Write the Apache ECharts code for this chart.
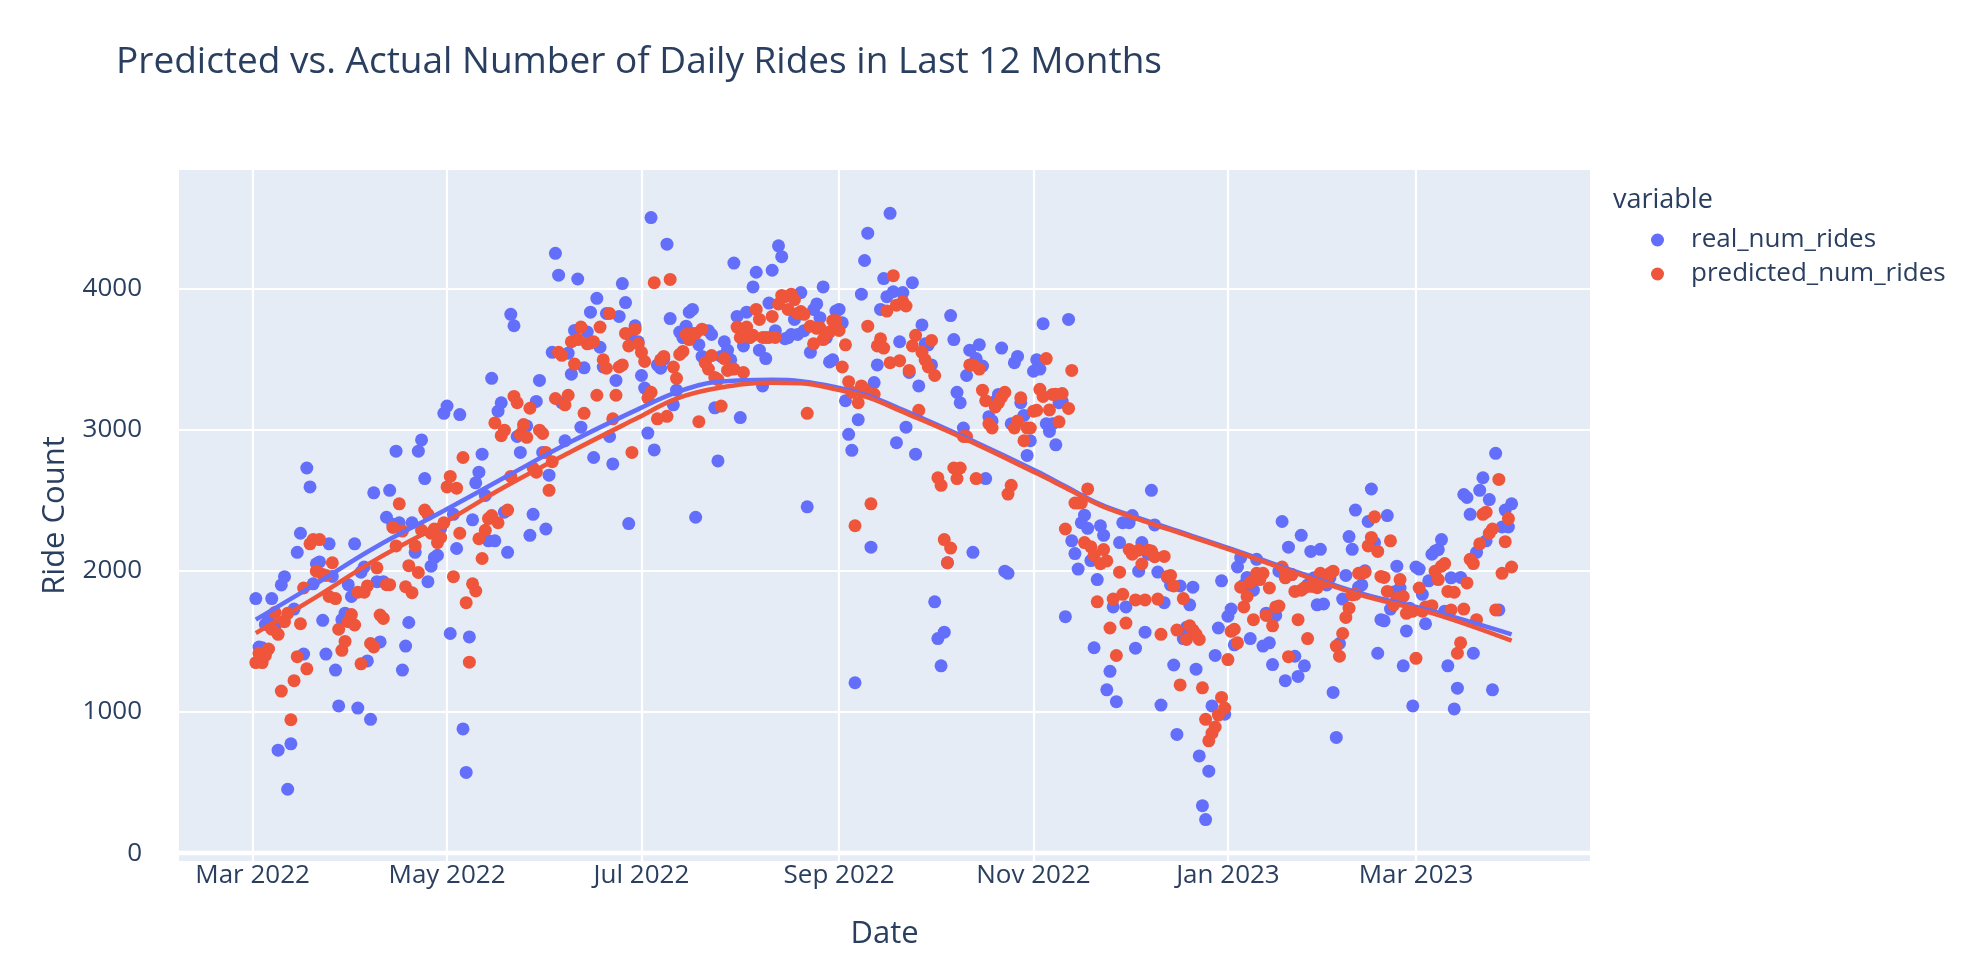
<!DOCTYPE html>
<html>
<head>
<meta charset="utf-8">
<script src="https://cdn.jsdelivr.net/npm/echarts@6.0.0/dist/echarts.min.js"></script>
<style>
html,body{margin:0;padding:0;background:#fff;}
#chart{width:1976px;height:972px;}
</style>
</head>
<body>
<div id="chart"></div>
<script>
// Daily observations: first day 2022-03-02, one value per consecutive day (395 days)
const firstDay = [2022, 3, 2];
const realNumRides = [
1803,1460,1455,1620,1660,1803,1600,730,1900,1958,
453,775,1729,2131,2266,1410,2728,2594,1908,2050,
2063,1649,1410,2191,1960,1297,1043,1654,1700,1902,
1818,2191,1028,1990,2027,1362,948,2552,1923,1496,
1923,2379,2570,2330,2847,2340,1297,1467,1634,2340,
2131,2847,2927,2653,1923,2033,2093,2110,2300,3115,
3166,1556,2400,2158,3106,880,572,1532,2361,2623,
2698,2826,2534,2212,3363,2212,3130,3190,2415,2131,
3816,3735,2951,2838,3000,3026,2251,2400,3199,3348,
2838,2296,2677,3547,4248,4093,3190,2921,3541,3392,
3702,4066,3017,3437,3690,3831,2802,3929,3583,3443,
3822,2951,2757,3348,3801,4034,3899,2334,3637,3735,
3622,3383,3294,2975,4501,2856,3458,3434,3500,4313,
3786,3175,3279,3690,3650,3732,3831,3851,2379,3601,
3518,3482,3700,3673,3154,2778,3518,3622,3562,3494,
4179,3801,3085,3592,3831,3652,4010,4114,3562,3309,
3503,3896,4128,3700,4301,4224,3643,3650,3673,3780,
3673,3970,3700,2453,3547,3850,3890,3792,4010,3650,
3479,3494,3839,3851,3756,3204,2966,2853,1207,3070,
3959,4197,4391,2167,3333,3458,3851,4069,3941,4531,
3976,2907,3622,3970,3017,3404,4040,2826,3309,3741,
3607,3600,3458,1780,1520,1327,1565,2057,3807,3637,
3264,3190,3011,3383,3562,2131,3503,3601,3450,2653,
3091,3061,3200,3249,3577,1997,1982,3041,3473,3518,
3190,3100,2817,2921,3413,3494,3428,3750,3041,2987,
3041,2892,3190,3200,1675,3780,2212,2122,2012,2340,
2394,2301,2072,1455,1938,2319,2251,1157,1288,1744,
1073,2200,2340,1744,2340,2391,1452,1997,2200,1565,
2117,2570,2325,1991,1049,1774,1953,1900,1333,841,
1893,1520,1600,1759,1884,1303,689,337,238,581,
1043,1401,1595,1929,984,1678,1729,1476,2027,2093,
1900,1953,1520,1863,2081,1950,1467,1700,1490,1336,
1684,1997,2349,1222,2167,1973,1395,1252,2251,1327,
1900,2137,1950,1759,2152,1765,1900,1950,1139,820,
1485,1800,1967,2242,2152,2430,1884,1900,2000,2349,
2579,2200,1416,1654,1646,2391,1729,1850,2033,1878,
1327,1574,1735,1043,2027,2012,1833,1625,1929,2117,
2140,2150,2221,1714,1327,1950,1022,1169,1953,2540,
2519,2400,1416,2131,2570,2659,2212,2504,1157,2832,
1723,2310,2430,2310,2474
];
const predictedNumRides = [
1350,1416,1350,1400,1446,1586,1705,1550,1148,1640,
1699,945,1222,1392,1625,1878,1306,2191,2221,1997,
2221,1973,1967,1818,2057,1803,1586,1437,1500,1640,
1690,1616,1848,1341,1848,1893,1485,1461,2021,1687,
1663,1902,1902,2307,2176,2474,2281,1887,2036,1845,
2176,1988,2287,2430,2400,2266,2296,2200,2236,2340,
2594,2668,1958,2585,2266,2802,1774,1353,1908,1857,
2227,2087,2287,2370,2391,3047,2340,2957,2996,2430,
2668,3235,3190,2966,3035,2945,3151,2728,2698,2996,
2972,2838,2570,2772,3220,3547,3526,3175,3243,3622,
3464,3637,3726,3115,3607,3613,3622,3243,3726,3494,
3434,3822,3076,3243,3443,3458,3681,3592,2838,3711,
3607,3547,3482,3225,3264,4040,3076,3494,3518,3094,
4063,3443,3363,3532,3553,3673,3637,3681,3681,3056,
3711,3473,3428,3524,3369,3354,3166,3503,3419,3428,
3428,3726,3652,3404,3726,3652,3667,3851,3780,3652,
3652,3652,3801,3652,3890,3950,3941,3851,3959,3920,
3822,3836,3816,3115,3732,3607,3717,3720,3637,3673,
3690,3771,3771,3702,3443,3600,3339,3264,2319,3190,
3309,3285,3732,2474,3250,3592,3643,3577,3839,3473,
4090,3881,3488,3905,3875,3419,3592,3667,3136,3547,
3494,3443,3631,3383,2659,2605,2221,2057,2161,2728,
2653,2728,2951,2951,3458,3458,2653,3428,3279,3204,
3041,3011,3160,3190,3230,3264,2543,2605,3011,3061,
3225,2921,3011,3011,3130,3136,3285,3234,3503,3139,
3249,3250,3055,3255,2296,3150,3419,2480,2480,2480,
2200,2580,2170,2110,1780,2050,2150,2070,1595,1800,
1400,1990,1833,1630,2150,2117,1794,2146,2048,1794,
2146,2140,2100,1800,1550,2102,1960,1967,1893,1580,
1192,1803,1514,1610,1580,1550,1514,1171,948,796,
850,894,978,1103,1028,1371,1571,1586,1490,1884,
1744,1818,1917,1654,1982,1938,1982,1684,1878,1610,
1744,1750,2027,1950,1392,1973,1854,1654,1863,1880,
1520,1890,1890,1880,1982,1960,1920,1982,1997,1467,
1395,1556,1670,1735,1830,1833,1982,1982,1990,2176,
2236,2382,2137,1960,1953,1854,2212,1759,1803,1938,
1818,1699,1714,1714,1380,1878,1714,1744,1744,1753,
1997,1938,2033,2051,1854,1723,1848,1416,1490,1729,
1914,2081,2051,1654,2191,2400,2415,2266,2296,1723,
2647,1982,2206,2370,2027
];
// Trend (LOWESS) lines, read at these day offsets counted from 2022-03-01
const trendDays = [1,20,38,60,79,100,121,133,146,163,172,183,193,204,224,246,255,266,276,287,307,328,348,370,395];
const realTrend = [1654,1910,2160,2425,2660,2915,3145,3264,3338,3353,3343,3300,3240,3140,2940,2705,2598,2470,2388,2305,2155,1988,1838,1716,1550];
const predictedTrend = [1559,1815,2070,2340,2593,2845,3085,3219,3294,3332,3328,3285,3228,3125,2928,2690,2588,2462,2380,2296,2146,1978,1826,1700,1505];
// Axis ticks
const xTickDates = ['2022-03-01','2022-05-01','2022-07-01','2022-09-01','2022-11-01','2023-01-01','2023-03-01'];
const xTickLabels = ['Mar 2022','May 2022','Jul 2022','Sep 2022','Nov 2022','Jan 2023','Mar 2023'];
const yTicks = [0,1000,2000,3000,4000];

function ms(y, m, d) { return Date.UTC(y, m - 1, d); }
function parse(s) { const p = s.split('-').map(Number); return ms(p[0], p[1], p[2]); }
const xTickMs = xTickDates.map(parse);
const dayMs = i => ms(firstDay[0], firstDay[1], firstDay[2] + i);
const offMs = k => ms(2022, 3, 1 + k);

const realData = realNumRides.map((v, i) => [dayMs(i), v]);
const predData = predictedNumRides.map((v, i) => [dayMs(i), v]);
const realTrendData = trendDays.map((k, i) => [offMs(k), realTrend[i]]);
const predTrendData = trendDays.map((k, i) => [offMs(k), predictedTrend[i]]);

const FONT = "'Open Sans', 'Noto Sans', sans-serif";
const TXT = '#2a3f5f';
const BLUE = '#636efa', RED = '#EF553B';

const chart = echarts.init(document.getElementById('chart'), null, {renderer: 'canvas'});
chart.setOption({
  animation: false,
  backgroundColor: '#ffffff',
  textStyle: {fontFamily: FONT, color: TXT},
  title: [
    {text: 'Predicted vs. Actual Number of Daily Rides in Last 12 Months', left: 111, top: 39,
     textStyle: {fontFamily: FONT, fontSize: 37, fontWeight: 'normal', color: TXT}},
    {text: 'variable', left: 1608, top: 182,
     textStyle: {fontFamily: FONT, fontSize: 27, fontWeight: 'normal', color: TXT}}
  ],
  legend: {
    orient: 'vertical', left: 1646, top: 222,
    data: [{name: 'real_num_rides', icon: 'circle'}, {name: 'predicted_num_rides', icon: 'circle'}],
    itemWidth: 13, itemHeight: 13, itemGap: 8,
    textStyle: {fontFamily: FONT, fontSize: 26, color: TXT, padding: [0, 0, 0, 22]}
  },
  grid: {left: 179, right: 386, top: 170, bottom: 111, show: true, backgroundColor: '#E5ECF6', borderWidth: 0, containLabel: false},
  xAxis: {
    type: 'value',
    min: ms(2022, 3, 1) - 23.1 * 864e5,
    max: ms(2022, 3, 1) + 419.6 * 864e5,
    name: 'Date', nameLocation: 'middle', nameGap: 58,
    nameTextStyle: {fontFamily: FONT, fontSize: 31, color: TXT},
    axisLine: {show: false}, axisTick: {show: false, customValues: xTickMs},
    axisLabel: {customValues: xTickMs, fontFamily: FONT, fontSize: 26, color: TXT, margin: 2,
      formatter: v => { const i = xTickMs.indexOf(v); return i >= 0 ? xTickLabels[i] : ''; }},
    splitLine: {show: true, lineStyle: {color: '#ffffff', width: 2.2}}
  },
  yAxis: {
    type: 'value', min: -55, max: 4838,
    name: 'Ride Count', nameLocation: 'middle', nameGap: 108,
    nameTextStyle: {fontFamily: FONT, fontSize: 31, color: TXT},
    axisLine: {show: false}, axisTick: {show: false, customValues: yTicks},
    axisLabel: {customValues: yTicks, fontFamily: FONT, fontSize: 26, color: TXT, margin: 37,
      formatter: v => String(v)},
    splitLine: {show: true, lineStyle: {color: '#ffffff', width: 2.2}}
  },
  series: [
    {name: 'real_num_rides', type: 'scatter', data: realData, symbolSize: 13,
     itemStyle: {color: BLUE, opacity: 1},
     markLine: {silent: true, symbol: 'none', label: {show: false},
       lineStyle: {color: '#ffffff', width: 4.4, type: 'solid'}, data: [{yAxis: 0}]}},
    {name: 'real_trend', type: 'line', data: realTrendData, showSymbol: false, symbol: 'none', smooth: 0.4,
     lineStyle: {color: BLUE, width: 4.5}, itemStyle: {color: BLUE}},
    {name: 'predicted_num_rides', type: 'scatter', data: predData, symbolSize: 13,
     itemStyle: {color: RED, opacity: 1}},
    {name: 'predicted_trend', type: 'line', data: predTrendData, showSymbol: false, symbol: 'none', smooth: 0.4,
     lineStyle: {color: RED, width: 4.5}, itemStyle: {color: RED}}
  ]
});
</script>
</body>
</html>
